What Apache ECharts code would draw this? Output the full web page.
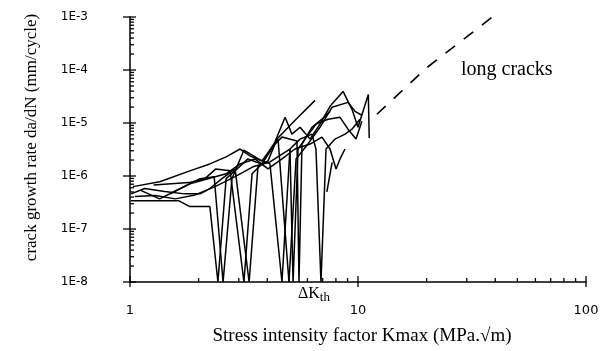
<!DOCTYPE html>
<html>
<head>
<meta charset="utf-8">
<script src="https://cdn.jsdelivr.net/npm/echarts@6/dist/echarts.min.js"></script>
<style>
html,body{margin:0;padding:0;background:#fff;}
#chart{width:610px;height:351px;}
</style>
</head>
<body>
<div id="chart"></div>
<script>
// ---- data (Kmax in MPa.sqrt(m), da/dN in mm/cycle) ----
const shortCrack1 = [[1.01,3.4e-7],[1.64,3.4e-7],[1.83,2.65e-7],[2.24,2.65e-7],[2.43,1e-8],[2.64,8.9e-7],[2.95,1.36e-6],[3.29,2.1e-6],[3.57,1.84e-6],[3.79,1.69e-6],[4.32,4.37e-6],[4.79,1.28e-5],[5.13,6.17e-6],[5.57,8.3e-6],[6.16,4.97e-6],[6.81,9.5e-6],[7.54,2.06e-5],[8.6,3.94e-5],[9.41,1.81e-5],[10.0,8.3e-6],[11.1,3.46e-5],[11.2,5.19e-6]];
const shortCrack2 = [[1.12,5.3e-7],[1.35,3.7e-7],[1.66,5.8e-7],[2.03,8.9e-7],[2.34,9.7e-7],[2.56,1e-8],[2.8,8.9e-7],[3.16,3.09e-6],[3.72,2.01e-6],[4.11,1.69e-6],[4.64,1e-8],[5.03,3.23e-6],[5.57,4.97e-6],[6.28,6.17e-6],[6.54,3.23e-6],[6.88,1e-8],[7.24,3.23e-6],[7.93,4.97e-6],[8.77,6.17e-6],[9.41,7.65e-6],[10.2,1.18e-5]];
const shortCrack3 = [[1.27,6.8e-7],[1.81,7.5e-7],[2.13,8.9e-7],[2.38,1.36e-6],[2.75,1.25e-6],[3.16,1e-8],[3.43,1.1e-6],[3.79,1.69e-6],[4.46,4.97e-6],[4.98,1e-8],[5.35,2.1e-6],[6.03,4.01e-6],[6.81,8.3e-6],[7.69,1.98e-5],[9.04,2.45e-5],[9.7,1.66e-5],[10.4,1.4e-5]];
const shortCrack4 = [[1.01,4.6e-7],[1.16,5.8e-7],[1.42,5.1e-7],[1.74,4.6e-7],[2.03,4.6e-7],[2.24,5.8e-7],[2.53,8.9e-7],[2.89,1.36e-6],[3.33,1e-8],[3.64,1.49e-6],[4.03,1.93e-6],[4.41,4.97e-6],[5.35,1.18e-5],[6.48,2.67e-5]];
const shortCrack5 = [[1.03,6.3e-7],[1.35,7.8e-7],[1.83,1.25e-6],[2.24,1.69e-6],[2.64,2.29e-6],[3.04,3.23e-6],[3.36,2.39e-6],[3.79,1.93e-6],[4.2,3.52e-6],[4.64,5.42e-6],[5.4,4.56e-6],[5.51,1e-8],[5.68,4.01e-6],[6.28,8.3e-6],[6.95,1.18e-5],[7.54,1.66e-5]];
const shortCrack6 = [[1.05,4.1e-7],[1.29,4.3e-7],[1.58,3.7e-7],[1.93,4.4e-7],[2.36,6.3e-7],[2.89,9.7e-7],[3.46,1.49e-6],[4.11,1.84e-6],[5.03,3.23e-6],[5.19,1e-8],[5.46,3.23e-6],[5.85,4.97e-6],[6.54,9.5e-6],[7.39,1.18e-5],[8.34,1.28e-5],[9.04,7.65e-6],[9.8,4.97e-6],[10.4,1.08e-5]];
const shortCrack7 = [[1.5,4.6e-7],[1.83,7.1e-7],[2.2,8.9e-7],[2.64,1.1e-6],[3.04,1.69e-6],[3.53,2.1e-6],[4.03,1.36e-6],[4.64,2.1e-6],[5.29,3.23e-6],[6.16,4.01e-6],[6.95,5.42e-6],[7.54,3.23e-6],[8.01,1.36e-6],[8.34,2.1e-6],[8.77,3.23e-6]];
const shortCrack8 = [[7.3,5e-7],[7.7,1.8e-6]];
const longCracks = [[12.1,1.46e-5],[20.0,1.1e-4],[42.0,1.3e-3]];

const xTickLabels = {0:'1', 1:'10', 2:'100'};
const yTickLabels = {'-8':'1E-8','-7':'1E-7','-6':'1E-6','-5':'1E-5','-4':'1E-4','-3':'1E-3'};
const xMajorTicks = [1,10,100];
const yMajorTicks = [1e-8,1e-7,1e-6,1e-5,1e-4,1e-3];
const xMinorTicks = [2,3,4,5,6,7,8,9,20,30,40,50,60,70,80,90];
const yMinorTicks = [];
[-8,-7,-6,-5,-4].forEach(function(e){ for (let m=2;m<=9;m++) yMinorTicks.push(m*Math.pow(10,e)); });

const xName = 'Stress intensity factor Kmax (MPa.\u221Am)';
const yName = 'crack growth rate da/dN (mm/cycle)';
const longLabel = 'long cracks';

const SANS = "'DejaVu Sans', 'Liberation Sans', Arial, sans-serif";
const SERIF = "'Liberation Serif', 'Times New Roman', serif";

const chart = echarts.init(document.getElementById('chart'), null, {renderer:'canvas'});
const lineStyle = {color:'#000', width:1.5};
const shortSeries = [shortCrack1,shortCrack2,shortCrack3,shortCrack4,shortCrack5,shortCrack6,shortCrack7,shortCrack8].map(function(d){
  return {type:'line', data:d, showSymbol:false, symbol:'none', lineStyle:lineStyle, silent:true, clip:false};
});

function tickSeries(values, axis, len){
  return {type:'custom', silent:true, clip:false,
    data: values.map(function(v){ return axis==='x' ? [v,1e-8] : [1,v]; }),
    renderItem:function(params, api){
      const p = api.coord([api.value(0), api.value(1)]);
      const shape = axis==='x' ? {x1:p[0],y1:p[1],x2:p[0],y2:p[1]-len} : {x1:p[0],y1:p[1],x2:p[0]+len,y2:p[1]};
      return {type:'line', shape:shape, style:{stroke:'#000', lineWidth:1.3}};
    }};
}

chart.setOption({
  animation:false,
  backgroundColor:'#fff',
  grid:{left:130, right:24, top:17, bottom:67},
  xAxis:{
    type:'log', logBase:10, min:1, max:100,
    name:xName, nameLocation:'middle', nameGap:45,
    nameTextStyle:{fontFamily:SERIF, fontSize:19, color:'#000', padding:[0,0,0,8]},
    axisLine:{show:true, lineStyle:{color:'#000', width:1.5}},
    axisTick:{show:false},
    axisLabel:{margin:22, color:'#000', fontFamily:SANS, fontSize:13,
      formatter:function(v){ return xTickLabels[Math.round(Math.log10(v))]; }},
    splitLine:{show:false}, minorTick:{show:false}
  },
  yAxis:{
    type:'log', logBase:10, min:1e-8, max:1e-3,
    name:yName, nameLocation:'middle', nameGap:90, nameRotate:90,
    nameTextStyle:{fontFamily:SERIF, fontSize:17, color:'#000', padding:[0,0,0,24]},
    axisLine:{show:true, lineStyle:{color:'#000', width:1.5}},
    axisTick:{show:false},
    axisLabel:{margin:42, color:'#000', fontFamily:SANS, fontSize:12,
      formatter:function(v){ return yTickLabels[String(Math.round(Math.log10(v)))]; }},
    splitLine:{show:false}, minorTick:{show:false}
  },
  series: shortSeries.concat([
    {type:'line', data:longCracks, showSymbol:false, symbol:'none', silent:true, clip:false,
     lineStyle:{color:'#000', width:1.6, type:[12,11]}},
    tickSeries(xMinorTicks,'x',4),
    tickSeries(yMinorTicks,'y',4),
    tickSeries(xMajorTicks,'x',6),
    tickSeries(xMajorTicks,'x',-5),
    tickSeries(yMajorTicks,'y',6),
    tickSeries(yMajorTicks,'y',-7)
  ]),
  graphic:[
    {type:'text', left:461, top:60, style:{text:longLabel, font:"20px 'Liberation Serif'", fill:'#000'}},
    {type:'text', left:298, top:286, style:{
      text:'{a|\u0394K}{b|th}',
      rich:{a:{fontFamily:SERIF, fontSize:16, color:'#000'}, b:{fontFamily:SERIF, fontSize:13, color:'#000', padding:[8,0,0,0]}}}}
  ]
});
</script>
</body>
</html>
